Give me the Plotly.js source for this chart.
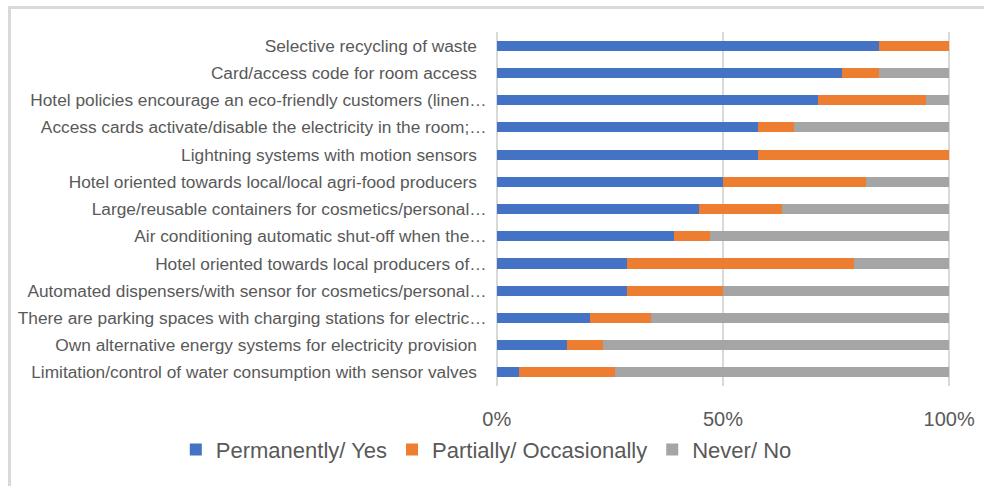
<!DOCTYPE html>
<html>
<head>
<meta charset="utf-8">
<script src="https://cdn.plot.ly/plotly-3.0.1.min.js"></script>
<style>
  html, body { margin:0; padding:0; background:#fff; overflow:hidden; }
  #wrap { position:relative; width:984px; height:486px; }
  #chart { position:absolute; left:0; top:0; width:984px; height:486px; }
  #frame { position:absolute; left:8px; top:6px; width:1000px; height:520px; border:3px solid #d9d9d9; box-sizing:border-box; pointer-events:none; }
</style>
</head>
<body>
<div id="wrap">
  <div id="chart"></div>
  <div id="frame"></div>
</div>
<script>
const categories = [
  "Selective recycling of waste\u00a0\u00a0",
  "Card/access code for room access\u00a0\u00a0",
  "Hotel policies encourage an eco-friendly customers (linen…",
  "Access cards activate/disable the electricity in the room;…",
  "Lightning systems with motion sensors\u00a0\u00a0",
  "Hotel oriented towards local/local agri-food producers\u00a0\u00a0",
  "Large/reusable containers for cosmetics/personal…",
  "Air conditioning automatic shut-off when the…",
  "Hotel oriented towards local producers of…",
  "Automated dispensers/with sensor for cosmetics/personal…",
  "There are parking spaces with charging stations for electric…",
  "Own alternative energy systems for electricity provision\u00a0\u00a0",
  "Limitation/control of water consumption with sensor valves\u00a0\u00a0"
];
const permanentlyYes = [84.4, 76.4, 71.0, 57.7, 57.7, 50.0, 44.6, 39.2, 28.7, 28.7, 20.7, 15.6, 4.9];
const partiallyOccasionally = [15.6, 8.0, 23.8, 7.9, 42.3, 31.5, 18.4, 8.0, 50.3, 21.3, 13.4, 7.8, 21.2];
const neverNo = [0, 15.6, 5.2, 34.4, 0, 18.5, 37.0, 52.8, 21.0, 50.0, 65.9, 76.6, 73.9];
const tickValues = [0, 50, 100];
const tickLabels = ["0%", "50%", "100%"];

const seriesNames = ["Permanently/ Yes", "Partially/ Occasionally", "Never/ No"];
const seriesColors = ["#4472C4", "#ED7D31", "#A5A5A5"];
const seriesValues = [permanentlyYes, partiallyOccasionally, neverNo];

const traces = seriesValues.map((vals, i) => ({
  type: "bar",
  orientation: "h",
  name: seriesNames[i],
  x: vals,
  y: categories,
  marker: { color: seriesColors[i] },
  hoverinfo: "x+y+name"
}));

const layout = {
  width: 984,
  height: 486,
  barmode: "stack",
  bargap: 0.63,
  paper_bgcolor: "#ffffff",
  plot_bgcolor: "#ffffff",
  margin: { l: 495, r: 33, t: 32, b: 100, pad: 0 },
  font: { family: "Liberation Sans, Arial, sans-serif", color: "#595959" },
  xaxis: {
    range: [-0.4, 100.4],
    tickvals: tickValues,
    ticktext: tickLabels,
    showgrid: true,
    gridcolor: "#d9d9d9",
    gridwidth: 2,
    zeroline: false,
    showline: false,
    ticks: "outside",
    ticklen: 15,
    tickcolor: "rgba(0,0,0,0)",
    tickfont: { size: 20, color: "#595959" },
    fixedrange: true
  },
  yaxis: {
    type: "category",
    autorange: "reversed",
    showgrid: false,
    zeroline: false,
    showline: false,
    ticks: "outside",
    ticklen: 4,
    tickcolor: "rgba(0,0,0,0)",
    tickfont: { size: 17.3, color: "#595959" },
    fixedrange: true
  },
  showlegend: true,
  legend: {
    orientation: "h",
    x: -0.70,
    xanchor: "left",
    y: -0.18,
    yanchor: "middle",
    font: { size: 22, color: "#595959" },
    itemwidth: 30,
    traceorder: "normal"
  }
};

Plotly.newPlot("chart", traces, layout, { displayModeBar: false, staticPlot: true });
</script>
</body>
</html>
